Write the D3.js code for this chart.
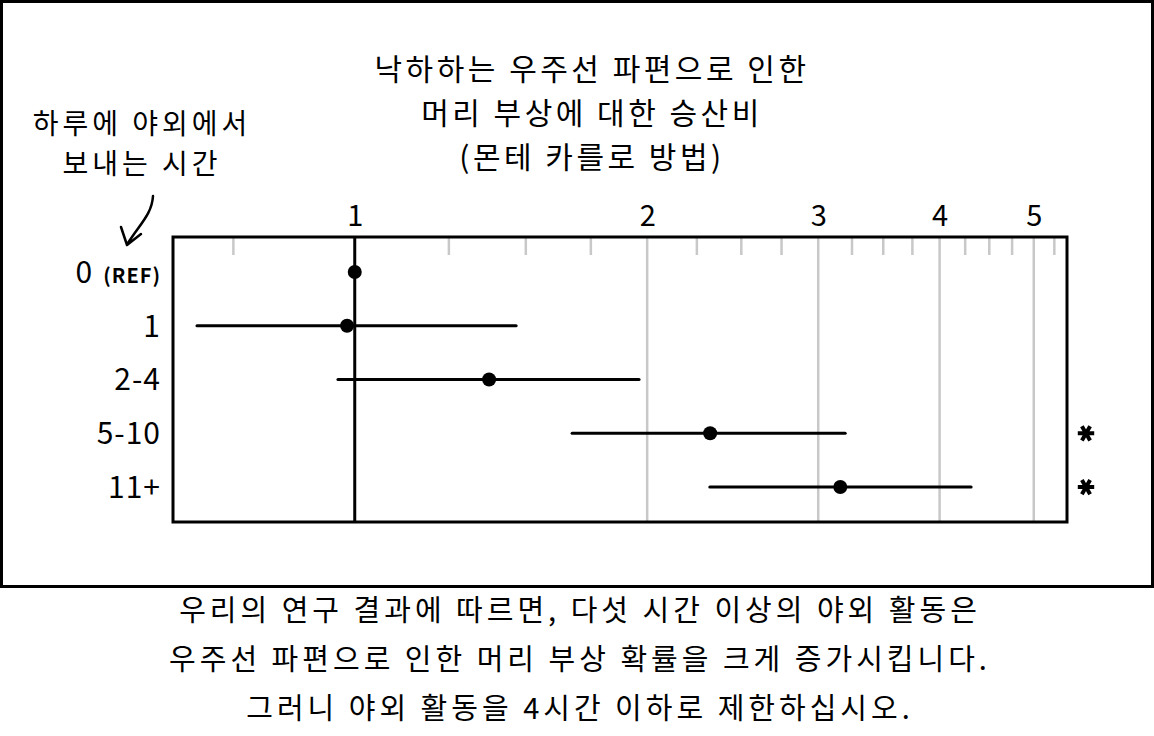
<!DOCTYPE html>
<html>
<head>
<meta charset="utf-8">
<script src="https://cdn.jsdelivr.net/npm/d3@7"></script>
<style>
  body { margin: 0; background: #fff; }
  svg text { font-family: "Noto Sans CJK KR", "Noto Sans", sans-serif; fill: #000; }
</style>
</head>
<body>
<script>
// rows (hours outdoors per day)
const groups = ["0", "1", "2-4", "5-10", "11+"];
const odds = [1, 0.982, 1.375, 2.322, 3.161];
const lower = [null, 0.688, 0.961, 1.674, 2.32];
const upper = [null, 1.466, 1.962, 3.198, 4.31];
const significant = [false, false, false, true, true];

const majorTicks = [1, 2, 3, 4, 5];
const minorTicks = [0.75, 1.25, 1.5, 1.75, 2.25, 2.5, 2.75, 3.25, 3.5, 3.75, 4.25, 4.5, 4.75, 5.25];

const titleLines = ["낙하하는 우주선 파편으로 인한", "머리 부상에 대한 승산비", "(몬테 카를로 방법)"];
const noteLines = ["하루에 야외에서", "보내는 시간"];
const captionLines = [
  "우리의 연구 결과에 따르면, 다섯 시간 이상의 야외 활동은",
  "우주선 파편으로 인한 머리 부상 확률을 크게 증가시킵니다.",
  "그러니 야외 활동을 4시간 이하로 제한하십시오."
];

const width = 1154, height = 736;
const margin = { top: 237, right: 87, bottom: 214, left: 173 };

const svg = d3.select("body").append("svg")
  .attr("width", width)
  .attr("height", height)
  .attr("viewBox", [0, 0, width, height]);

// panel border
svg.append("rect")
  .attr("x", 1.5).attr("y", 1.5)
  .attr("width", width - 3).attr("height", 585)
  .attr("fill", "none").attr("stroke", "#000").attr("stroke-width", 3);

const x = d3.scaleLog()
  .domain([0.65, 5.41])
  .range([margin.left, width - margin.right]);

const y = d3.scalePoint()
  .domain(groups)
  .range([margin.top, height - margin.bottom])
  .padding(0.65);

const plotTop = margin.top, plotBottom = height - margin.bottom;

// grid lines at majors
svg.append("g")
  .selectAll("line")
  .data(majorTicks.filter(d => d !== 1))
  .join("line")
  .attr("x1", d => x(d)).attr("x2", d => x(d))
  .attr("y1", plotTop).attr("y2", plotBottom)
  .attr("stroke", "#c8c8c8").attr("stroke-width", 2.5);

// minor ticks
svg.append("g")
  .selectAll("line")
  .data(minorTicks)
  .join("line")
  .attr("x1", d => x(d)).attr("x2", d => x(d))
  .attr("y1", plotTop).attr("y2", plotTop + 18)
  .attr("stroke", "#c8c8c8").attr("stroke-width", 2.5);

// axis labels on top
svg.append("g")
  .attr("transform", `translate(0,${plotTop})`)
  .call(d3.axisTop(x).tickValues(majorTicks).tickFormat(d3.format("d")).tickSize(0).tickPadding(11))
  .call(g => g.select(".domain").remove())
  .call(g => g.selectAll("text")
    .attr("font-size", 29)
    .style("font-family", "\"Noto Sans CJK KR\", sans-serif"));

// reference line at 1
svg.append("line")
  .attr("x1", x(1)).attr("x2", x(1))
  .attr("y1", plotTop).attr("y2", plotBottom)
  .attr("stroke", "#000").attr("stroke-width", 3);

// frame
svg.append("rect")
  .attr("x", margin.left).attr("y", plotTop)
  .attr("width", width - margin.right - margin.left)
  .attr("height", plotBottom - plotTop)
  .attr("fill", "none").attr("stroke", "#000").attr("stroke-width", 3);

// confidence intervals
const rows = groups.map((g, i) => ({ g, or: odds[i], lo: lower[i], hi: upper[i], sig: significant[i] }));

svg.append("g")
  .selectAll("line")
  .data(rows.filter(d => d.lo != null))
  .join("line")
  .attr("x1", d => x(d.lo)).attr("x2", d => x(d.hi))
  .attr("y1", d => y(d.g)).attr("y2", d => y(d.g))
  .attr("stroke", "#000").attr("stroke-width", 3)
  .attr("stroke-linecap", "round");

svg.append("g")
  .selectAll("circle")
  .data(rows)
  .join("circle")
  .attr("cx", d => x(d.or))
  .attr("cy", d => y(d.g))
  .attr("r", 7)
  .attr("fill", "#000");

// row labels
const labels = svg.append("g")
  .selectAll("text")
  .data(rows)
  .join("text")
  .attr("x", margin.left - 12)
  .attr("y", d => y(d.g))
  .attr("dy", "0.36em")
  .attr("text-anchor", "end")
  .attr("font-size", 30)
  .attr("letter-spacing", 1);
labels.each(function(d) {
  const t = d3.select(this);
  t.append("tspan").text(d.g);
  if (d.g === "0") t.append("tspan").attr("font-size", 20).attr("font-weight", "bold").attr("dx", 10).text("(REF)");
});

// significance asterisks
svg.append("g")
  .selectAll("path")
  .data(rows.filter(d => d.sig))
  .join("path")
  .attr("transform", d => `translate(${width - margin.right + 19},${y(d.g)}) rotate(90)`)
  .attr("d", d3.symbol(d3.symbolAsterisk, 190))
  .attr("fill", "none")
  .attr("stroke", "#000")
  .attr("stroke-width", 4);

// title
svg.append("g")
  .selectAll("text")
  .data(titleLines)
  .join("text")
  .attr("x", 592)
  .attr("y", (d, i) => 80 + i * 44)
  .attr("text-anchor", "middle")
  .attr("font-size", 30)
  .attr("letter-spacing", 3.5)
  .text(d => d);

// y-axis note
svg.append("g")
  .selectAll("text")
  .data(noteLines)
  .join("text")
  .attr("x", 142)
  .attr("y", (d, i) => 134 + i * 40)
  .attr("text-anchor", "middle")
  .attr("font-size", 28)
  .attr("letter-spacing", 4)
  .text(d => d);

// arrow
svg.append("path")
  .attr("d", "M153,196 C152,214 140,224 128,243 M121,227 L127,245 L141,234")
  .attr("fill", "none").attr("stroke", "#000").attr("stroke-width", 2.5)
  .attr("stroke-linecap", "round").attr("stroke-linejoin", "round");

// caption
svg.append("g")
  .selectAll("text")
  .data(captionLines)
  .join("text")
  .attr("x", 580)
  .attr("y", (d, i) => 621 + i * 49)
  .attr("text-anchor", "middle")
  .attr("font-size", 29)
  .attr("letter-spacing", 4)
  .text(d => d);
</script>
</body>
</html>
